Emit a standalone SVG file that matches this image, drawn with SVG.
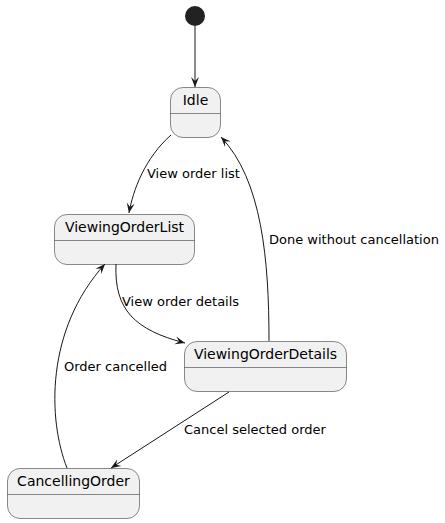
<svg xmlns="http://www.w3.org/2000/svg" width="445" height="523" viewBox="0 0 445 523">
<style>
.st{fill:#F1F1F1;stroke:#181818;stroke-width:0.5}
.sep{stroke:#181818;stroke-width:0.5}
.nm{font-family:"DejaVu Sans",sans-serif;font-size:14px;fill:#000;text-anchor:middle}
.lb{font-family:"DejaVu Sans",sans-serif;font-size:13px;fill:#000}
.e{fill:none;stroke:#181818;stroke-width:1;marker-end:url(#ah)}
</style>
<defs>
<marker id="ah" markerUnits="userSpaceOnUse" viewBox="-10 -5 11 10" refX="0" refY="0" markerWidth="11" markerHeight="10" orient="auto">
<path d="M0,0 L-10,-4 L-6,0 L-10,4 Z" fill="#181818"/>
</marker>
</defs>
<g id="start"><circle cx="195" cy="16" r="10" fill="#222222"/></g>
<g id="Idle">
<rect class="st" x="170.5" y="87.5" width="50" height="50" rx="12.5"/>
<line class="sep" x1="170.5" y1="113.5" x2="220.5" y2="113.5"/>
<text class="nm" x="195.5" y="105">Idle</text>
</g>
<g id="ViewingOrderList">
<rect class="st" x="54.5" y="214.5" width="140" height="50" rx="12.5"/>
<line class="sep" x1="54.5" y1="240.5" x2="194.5" y2="240.5"/>
<text class="nm" x="124.5" y="232">ViewingOrderList</text>
</g>
<g id="ViewingOrderDetails">
<rect class="st" x="184.5" y="341.5" width="162" height="50" rx="12.5"/>
<line class="sep" x1="184.5" y1="367.5" x2="346.5" y2="367.5"/>
<text class="nm" x="265.5" y="359">ViewingOrderDetails</text>
</g>
<g id="CancellingOrder">
<rect class="st" x="7.5" y="468.5" width="132" height="50" rx="12.5"/>
<line class="sep" x1="7.5" y1="494.5" x2="139.5" y2="494.5"/>
<text class="nm" x="73.5" y="486">CancellingOrder</text>
</g>
<g id="connectors">
<path class="e" d="M195,26 L195,87"/>
<path class="e" d="M171,135 C145,158 133,190 129,213"/>
<path class="e" d="M269,341 C269,260 262,180 221,137"/>
<path class="e" d="M116,264 C114,310 135,330 185,343"/>
<path class="e" d="M229,392 L111,468"/>
<path class="e" d="M67,468 C48,420 45,330 105,264"/>
</g>
<g id="labels">
<text class="lb" x="147" y="178">View order list</text>
<text class="lb" x="269" y="244">Done without cancellation</text>
<text class="lb" x="122" y="306">View order details</text>
<text class="lb" x="64" y="371">Order cancelled</text>
<text class="lb" x="184" y="434">Cancel selected order</text>
</g>
</svg>
